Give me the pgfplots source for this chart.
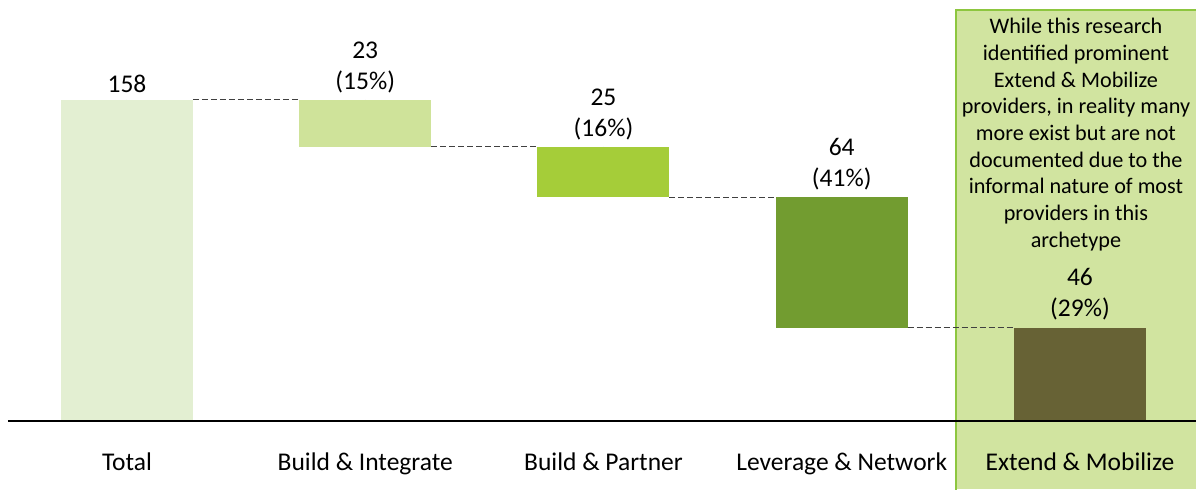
\documentclass[border=0pt]{standalone}
\usepackage{fontspec}
\setmainfont{Carlito}
\usepackage{pgfplots}
\pgfplotsset{compat=1.18}
\definecolor{cTotal}{HTML}{E3EFD2}
\definecolor{cBI}{HTML}{CFE39A}
\definecolor{cBP}{HTML}{A5CD39}
\definecolor{cLN}{HTML}{729C30}
\definecolor{cEM}{HTML}{676235}
\definecolor{boxfill}{HTML}{D1E4A0}
\definecolor{boxedge}{HTML}{8DC63F}
\definecolor{dashc}{HTML}{404040}
\pgfplotsset{
  common/.style={
    scale only axis, width=598pt, height=244.5pt,
    xmin=-0.533, xmax=4.487, ymin=-33.47, ymax=207.2,
    clip=false,
  },
}
\begin{document}
\begin{tikzpicture}
% layer 1: highlight box and note
\begin{axis}[common, hide axis]
\addplot[fill=boxfill, draw=none] coordinates {(3.4795,-33.47) (3.4795,202.3) (4.487,202.3) (4.487,-33.47)} -- cycle;
\addplot[mark=none, draw=boxedge, line width=1.2pt] coordinates {(3.4795,-34) (3.4795,202.3) (4.487,202.3)};
\node[anchor=north, align=center, inner sep=0pt, font=\fontsize{11.1}{13.35}\selectfont] at (axis cs:3.983,198.4)
  {While this research\\identified prominent\\Extend \& Mobilize\\providers, in reality many\\more exist but are not\\documented due to the\\informal nature of most\\providers in this\\archetype};
\end{axis}
% layer 2: waterfall bars
\begin{axis}[common,
  ybar stacked, bar width=0.554,
  axis line style={draw=none}, major tick length=0pt,
  xtick={0,1,2,3,4},
  xticklabels={Total, Build \& Integrate, Build \& Partner, Leverage \& Network, Extend \& Mobilize},
  ytick=\empty,
  xticklabel style={anchor=base, yshift=9.5pt, font=\fontsize{12.75}{14}\selectfont},
]
\addplot[draw=none, fill=none] coordinates {(0,0) (1,135) (2,110) (3,46) (4,0)};
\addplot[draw=none, fill=cTotal] coordinates {(0,158) (1,0) (2,0) (3,0) (4,0)};
\addplot[draw=none, fill=cBI] coordinates {(0,0) (1,23) (2,0) (3,0) (4,0)};
\addplot[draw=none, fill=cBP] coordinates {(0,0) (1,0) (2,25) (3,0) (4,0)};
\addplot[draw=none, fill=cLN] coordinates {(0,0) (1,0) (2,0) (3,64) (4,0)};
\addplot[draw=none, fill=cEM] coordinates {(0,0) (1,0) (2,0) (3,0) (4,46)};
\end{axis}
% layer 3: connectors, baseline, value labels
\begin{axis}[common, hide axis]
\addplot[mark=none, draw=dashc, line width=0.5pt, dash pattern=on 3pt off 1.5pt] coordinates {(0.277,158) (0.723,158)};
\addplot[mark=none, draw=dashc, line width=0.5pt, dash pattern=on 3pt off 1.5pt] coordinates {(1.277,135) (1.723,135)};
\addplot[mark=none, draw=dashc, line width=0.5pt, dash pattern=on 3pt off 1.5pt] coordinates {(2.277,110) (2.723,110)};
\addplot[mark=none, draw=dashc, line width=0.5pt, dash pattern=on 3pt off 1.5pt] coordinates {(3.277,46) (3.723,46)};
\addplot[mark=none, draw=black, line width=0.8pt] coordinates {(-0.5,0) (4.487,0)};
\addplot[only marks, mark=*, mark size=0pt, mark options={draw=none, fill=none},
  nodes near coords, point meta=explicit symbolic,
  every node near coord/.append style={font=\fontsize{12.75}{15.5}\selectfont, align=center, text=black, anchor=south}]
  coordinates {(0,158) [158] (1,158) [{23\\(15\%)}] (2,135) [{25\\(16\%)}] (3,110) [{64\\(41\%)}] (4,46) [{46\\(29\%)}]};
\end{axis}
\pgfresetboundingbox
\path[use as bounding box] (current axis.south west) rectangle (current axis.north east);
\end{tikzpicture}
\end{document}
